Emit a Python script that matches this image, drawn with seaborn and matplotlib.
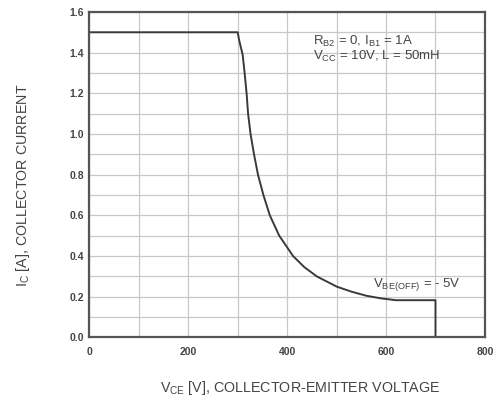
import numpy as np
import pandas as pd
import matplotlib
matplotlib.use("Agg")
import matplotlib.pyplot as plt
import seaborn as sns

# RBSOA curve
vce = [0, 300, 303, 307, 310, 314, 318, 321, 326, 333, 341, 352, 365, 384, 412, 435, 460, 500, 530, 560, 590, 620, 700, 700]
ic = [1.5, 1.5, 1.46, 1.42, 1.39, 1.3, 1.2, 1.1, 1.0, 0.9, 0.8, 0.7, 0.6, 0.5, 0.4, 0.345, 0.3, 0.25, 0.225, 0.205, 0.192, 0.183, 0.183, 0.0]

x_ticks = [0, 200, 400, 600, 800]
y_ticks = [0.0, 0.2, 0.4, 0.6, 0.8, 1.0, 1.2, 1.4, 1.6]

df = pd.DataFrame({"vce": vce, "ic": ic})

sns.set_style("white")
plt.rcParams["font.family"] = ["Liberation Sans", "DejaVu Sans"]

fig = plt.figure(figsize=(5.02, 4.11), dpi=100)
ax = fig.add_axes([0.178, 0.179, 0.788, 0.792])

sns.lineplot(data=df, x="vce", y="ic", sort=False, estimator=None,
             color="#3a3a3a", linewidth=1.4, ax=ax)

ax.set_xlim(0, 800)
ax.set_ylim(0, 1.6)
ax.set_xticks(x_ticks)
ax.set_yticks(y_ticks)
ax.set_xticklabels([str(t) for t in x_ticks])
ax.set_yticklabels([f"{t:.1f}" for t in y_ticks])
ax.set_xticks(np.arange(0, 801, 100), minor=True)
ax.set_yticks(np.arange(0, 1.61, 0.1), minor=True)
ax.grid(which="both", color="#c8c8c8", linewidth=0.9)
ax.tick_params(which="both", length=0, labelsize=7.5, labelcolor="#444444")
ax.tick_params(axis="x", pad=7)
ax.tick_params(axis="y", pad=4)
for lab in ax.get_xticklabels() + ax.get_yticklabels():
    lab.set_fontweight("bold")
for s in ax.spines.values():
    s.set_color("#555555")
    s.set_linewidth(1.6)

ax.set_xlabel("")
ax.set_ylabel("")
fig.text(0.598, 0.056, r"V$_{\mathregular{CE}}$ [V], COLLECTOR-EMITTER VOLTAGE",
         ha="center", va="center", fontsize=10.3, color="#444444")
fig.text(0.045, 0.55, r"I$_{\mathregular{C}}$ [A], COLLECTOR CURRENT",
         ha="center", va="center", rotation=90, fontsize=10.3, color="#444444")

ax.text(453, 1.455, r"R$_{\mathregular{B2}}$ = 0, I$_{\mathregular{B1}}$ = 1A",
        fontsize=9.5, color="#444444", va="center")
ax.text(453, 1.38, r"V$_{\mathregular{CC}}$ = 10V, L = 50mH",
        fontsize=9.5, color="#444444", va="center")
ax.text(573, 0.26, r"V$_{\mathregular{BE(OFF)}}$ = - 5V",
        fontsize=9.5, color="#444444", va="center")

fig.savefig("out.png", dpi=100, facecolor="white")
